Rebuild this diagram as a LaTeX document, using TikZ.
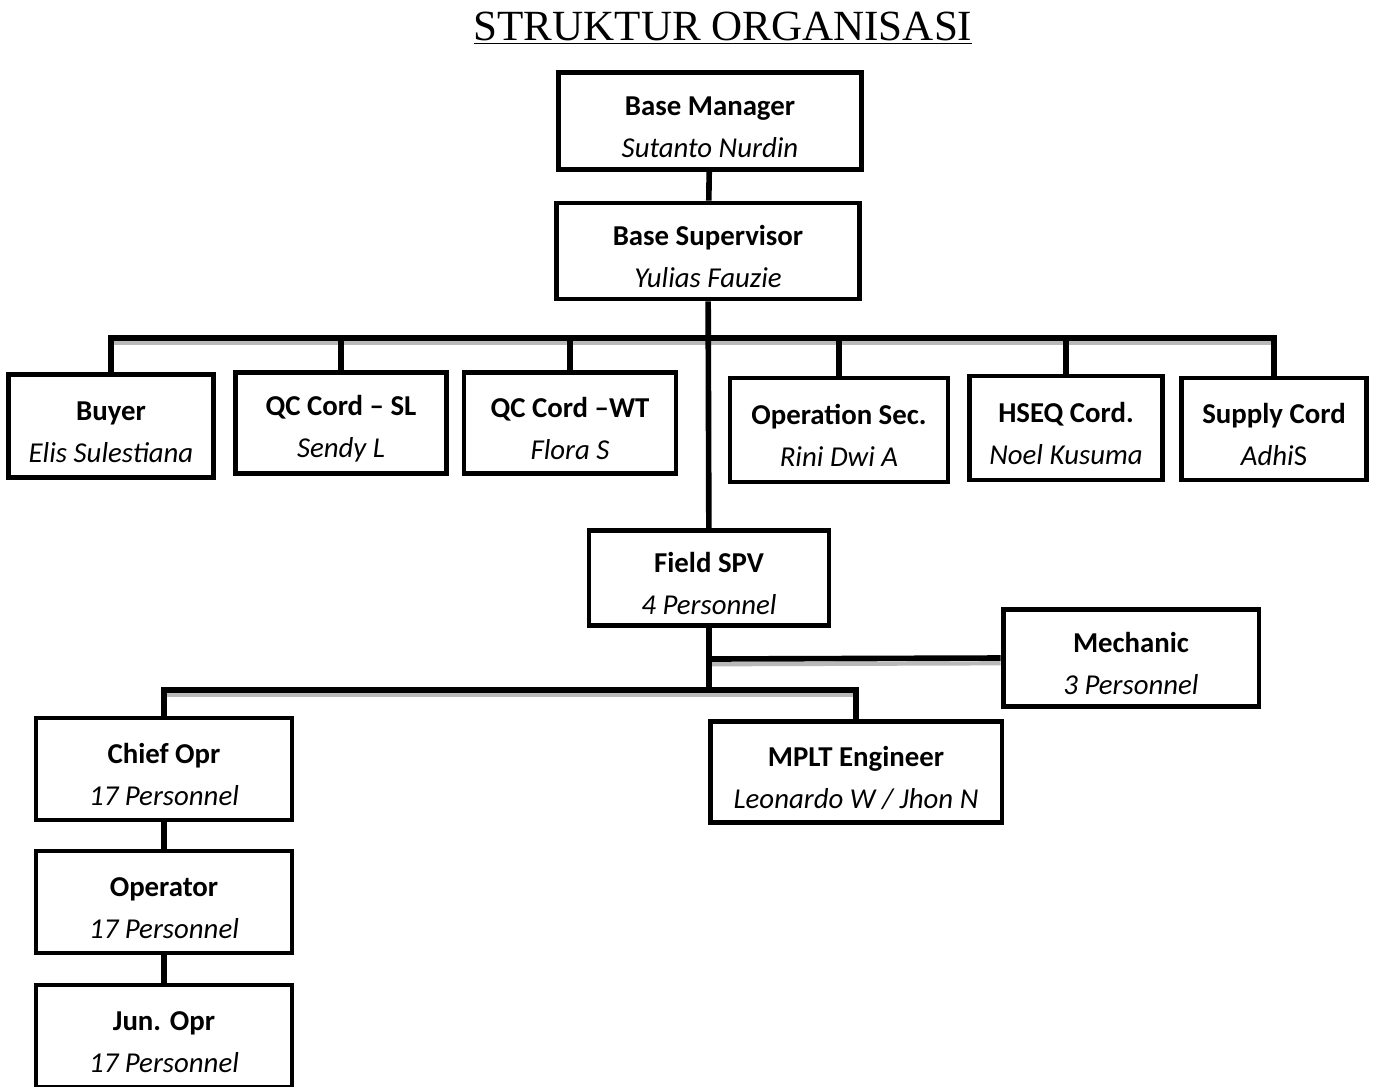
\documentclass[tikz,border=0pt]{standalone}
\usepackage{fontspec}
\setmainfont{Carlito}
\newfontfamily\titlefont{Liberation Serif}
\usetikzlibrary{positioning}

\newcommand{\post}[2]{\rule{0pt}{18pt}\textbf{#1}\\\textit{#2}}

\begin{document}
\begin{tikzpicture}[x=0.02cm,y=-0.02cm,
	box/.style={draw,line width=2.8pt,align=center,inner sep=0pt,
		font=\fontsize{16.4}{24}\selectfont},
	link/.style={line width=3.2pt},
	shade/.style={draw=gray!55,line width=2.4pt,transform canvas={yshift=-3pt}}]

\useasboundingbox (0,0) rectangle (1375,1086);

\node[font=\titlefont\fontsize{24.5}{28}\selectfont] (title) at (723,28) {\underline{STRUKTUR ORGANISASI}};

% top
\node[box,minimum width=6.06cm,minimum height=1.94cm] (bm) at (710,121) {\post{Base Manager}{Sutanto Nurdin}};
\node[box,minimum width=6.06cm,minimum height=1.92cm] (bs) at (708,251) {\post{Base Supervisor}{Yulias Fauzie}};

% staff row
\node[box,minimum width=4.1cm,minimum height=2.06cm] (buyer) at (111,426) {\post{Buyer}{Elis Sulestiana}};
\node[box,minimum width=4.22cm,minimum height=2.02cm] (qcsl) at (341,423) {\post{QC Cord -- SL}{Sendy L}};
\node[box,minimum width=4.24cm,minimum height=2.02cm] (qcwt) at (570,423) {\post{QC Cord --WT}{Flora S}};
\node[box,minimum width=4.36cm,minimum height=2.08cm] (opsec) at (839,430) {\post{Operation Sec.}{Rini Dwi A}};
\node[box,minimum width=3.86cm,minimum height=2.08cm] (hseq) at (1066,428) {\post{HSEQ Cord.}{Noel Kusuma}};
\node[box,minimum width=3.7cm,minimum height=2.04cm] (supply) at (1274,429) {\post{Supply Cord}{Adhi\upshape S}};

% field
\node[box,minimum width=4.8cm,minimum height=1.9cm] (fs) at (709,578) {\post{Field SPV}{4 Personnel}};
\node[box,minimum width=5.12cm,minimum height=1.94cm] (mech) at (1131,658) {\post{Mechanic}{3 Personnel}};
\node[box,minimum width=5.12cm,minimum height=2.04cm] (chief) at (164,769) {\post{Chief Opr}{17 Personnel}};
\node[box,minimum width=5.84cm,minimum height=2.02cm] (mplt) at (856,772) {\post{MPLT Engineer}{Leonardo W / Jhon N}};
\node[box,minimum width=5.12cm,minimum height=2.04cm] (opr) at (164,902) {\post{Operator}{17 Personnel}};
\node[box,minimum width=5.12cm,minimum height=2.04cm] (jun) at (164,1036) {\post{Jun. Opr}{17 Personnel}};

\coordinate (j1) at (708,338);
\coordinate (j2) at (709,659);
\coordinate (j3) at (709,690);

% shadows
\draw[shade] (buyer.north |- j1) -- (supply.north |- j1);
\draw[shade] (j2) -- (mech.west);
\draw[shade] (chief.north |- j3) -- (mplt.north |- j3);

% connectors
\draw[link] (bm) -- (bs);
\draw[link] (bs) -- (fs);
\draw[link] (buyer.north) -- (buyer.north |- j1) -- (supply.north |- j1) -- (supply.north);
\foreach \n in {qcsl,qcwt,opsec,hseq}
	\draw[link] (\n.north) -- (\n.north |- j1);
\draw[link] (fs.south) -- (j3);
\draw[link] (j2) -- (mech.west);
\draw[link] (chief.north) -- (chief.north |- j3) -- (mplt.north |- j3) -- (mplt.north);
\draw[link] (chief) -- (opr);
\draw[link] (opr) -- (jun);

\end{tikzpicture}
\end{document}
